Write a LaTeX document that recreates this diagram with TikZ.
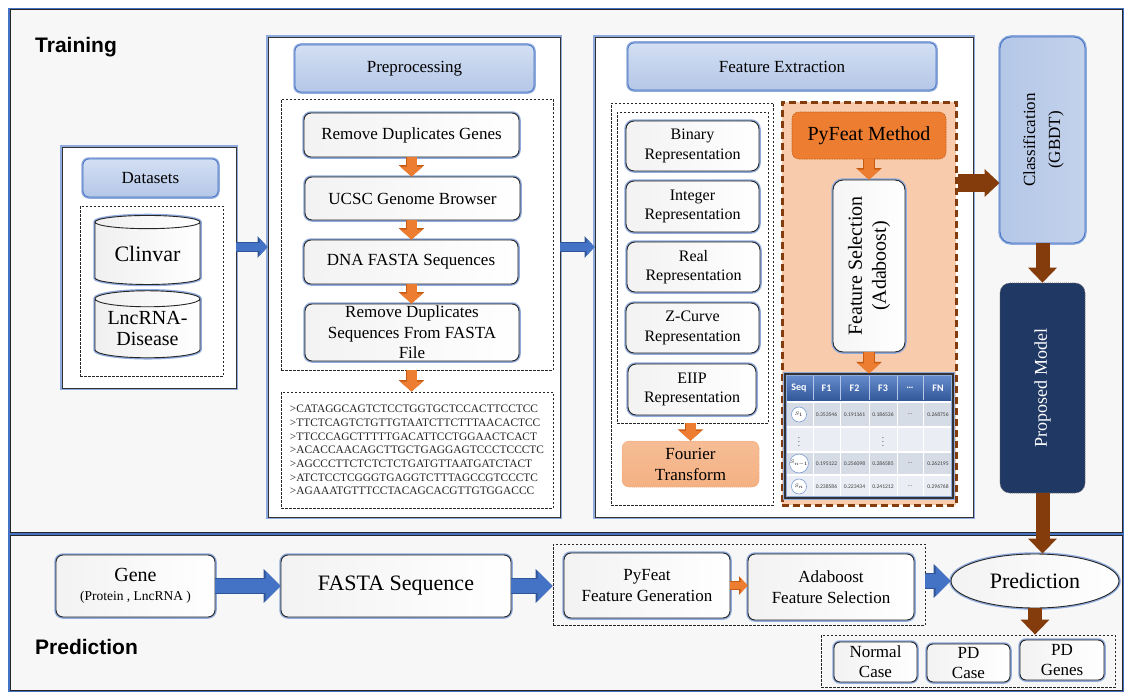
\documentclass[tikz,border=0pt]{standalone}
\usepackage{fontspec}
\usepackage{graphicx}
\setmainfont{Liberation Serif}
\newfontfamily\headsans{Liberation Sans}
\newfontfamily\tabfont{Carlito}
\usetikzlibrary{arrows.meta,shapes.geometric,calc}

\definecolor{hdrblue}{HTML}{B4C7E7}
\definecolor{hdrlight}{HTML}{D3DFF3}
\definecolor{edgeblue}{HTML}{4472C4}
\definecolor{glowblue}{HTML}{8FAADC}
\definecolor{darkblue}{HTML}{2F5597}
\definecolor{navy}{HTML}{1F3864}
\definecolor{orng}{HTML}{ED7D31}
\definecolor{orngdark}{HTML}{C55A11}
\definecolor{brwn}{HTML}{843C0C}
\definecolor{peach}{HTML}{F8CBAD}
\definecolor{salmon}{HTML}{F4B183}
\definecolor{rowA}{HTML}{D6DCE5}
\definecolor{rowB}{HTML}{EAEDF3}
\definecolor{panelbg}{HTML}{F7F7F7}

\tikzset{
  % a rectangle given by its left, top, right and bottom edges
  spanbox/.style n args={4}{at={({(#1+#3)/2},{(#2+#4)/2})},
    minimum width={(#3-#1)*1pt}, minimum height={(#4-#2)*1pt}},
  glow/.style={preaction={draw=glowblue, line width=3.5pt}},
  region/.style={preaction={draw=edgeblue, line width=4pt}, draw=black!85,
    line width=1pt, fill=panelbg, inner sep=0pt},
  panel/.style={glow, draw=black!80, line width=0.9pt, fill=white, inner sep=0pt},
  header/.style={glow, draw=edgeblue, line width=0.8pt, rounded corners=6pt,
    top color=hdrlight, bottom color=hdrblue, inner sep=0pt,
    font=\fontsize{17}{19}\selectfont},
  grp/.style={draw=black!85, line width=0.8pt, dash pattern=on 2.5pt off 1.5pt, inner sep=0pt},
  box/.style={glow, draw=black!85, line width=0.9pt, rounded corners=7pt,
    left color=gray!10, right color=white, inner sep=0pt, align=center,
    font=\fontsize{17}{20}\selectfont},
  rep/.style={box, rounded corners=8pt, font=\fontsize{16}{19.5}\selectfont},
  sbox/.style={box, rounded corners=6pt, font=\fontsize{17}{20}\selectfont},
  db/.style={cylinder, shape border rotate=90, aspect=0.2, glow, draw=black!85,
    line width=0.9pt, left color=gray!12, right color=white, inner sep=0pt,
    minimum width=105pt, align=center},
  lbl/.style={inner sep=0pt, font=\headsans\bfseries\fontsize{21}{24}\selectfont},
  blarrow/.style={draw=edgeblue, line width=8pt, -{Triangle[length=8pt,width=17pt]},
    preaction={draw=darkblue, line width=10pt, -{Triangle[length=10pt,width=21pt]}}},
  bigblarrow/.style={draw=edgeblue, line width=14pt, -{Triangle[length=15pt,width=29pt]},
    preaction={draw=darkblue, line width=16pt, -{Triangle[length=17pt,width=33pt]}}},
  orarrow/.style={draw=orng, line width=10pt, -{Triangle[length=10pt,width=22pt]},
    preaction={draw=orngdark, line width=11.5pt, -{Triangle[length=11.5pt,width=25pt]}}},
  smorarrow/.style={draw=orng, line width=7pt, -{Triangle[length=7pt,width=15pt]},
    preaction={draw=orngdark, line width=8.5pt, -{Triangle[length=8.5pt,width=18pt]}}},
  brarrow/.style={draw=brwn, line width=14pt, -{Triangle[length=15pt,width=28pt]}},
  val/.style={inner sep=0pt, font=\tabfont\fontsize{5.6}{6}\selectfont, text=black!75},
  thd/.style={inner sep=0pt, font=\tabfont\bfseries\fontsize{10}{11}\selectfont, text=white},
  sq/.style={circle, draw=edgeblue!70, line width=0.6pt, fill=white, minimum size=15pt,
    inner sep=0pt, font=\fontsize{5}{5}\selectfont},
}

\begin{document}
\begin{tikzpicture}[x=1pt,y=-1pt]
\fill[white] (0,0) rectangle (1127,693);
\useasboundingbox (0,0) rectangle (1127,693);

% ---------- the two stages ----------
\node[region, spanbox={10}{10}{1122}{532}] (train) {};
\node[region, spanbox={10}{535}{1122}{690}] (predarea) {};
\node[lbl, anchor=west] (trainlbl) at (35,47) {Training};
\node[lbl, anchor=west] (predlbl) at (35,647) {Prediction};

% ---------- datasets ----------
\node[panel, spanbox={62}{147}{236}{388}] (ds) {};
\node[header, spanbox={83}{159}{218}{197}] (dshead) {Datasets};
\node[grp, spanbox={80}{206}{223}{376}] (dsgrp) {};
\node[db, minimum height=69pt, font=\fontsize{22}{24}\selectfont] (clin) at (147.5,253.5) {Clinvar};
\node[db, minimum height=67pt, font=\fontsize{20}{21}\selectfont] (lnc) at (147.5,328.5) {LncRNA-\\Disease};

% ---------- preprocessing ----------
\node[panel, spanbox={268}{37}{560}{517}] (pre) {};
\node[header, spanbox={295}{45}{534}{92}] (prehead) {Preprocessing};
\node[grp, spanbox={281}{99}{553}{370}] (pregrp) {};
\node[box, spanbox={304}{113}{519}{157}] (rdg) {Remove Duplicates Genes};
\node[box, spanbox={305}{177}{520}{220}] (ucsc) {UCSC Genome Browser};
\node[box, spanbox={304}{240}{518}{284}] (dna) {DNA FASTA Sequences};
\node[box, spanbox={305}{304}{519}{361}, font=\fontsize{17}{20.5}\selectfont] (rds)
  {Remove Duplicates\\Sequences From FASTA\\File};
\node[grp, spanbox={281}{392}{553}{508}] (seqgrp) {};
\node[inner sep=0pt, align=left, font=\fontsize{11.4}{13.7}\selectfont, text=black!85] (seqs) at (seqgrp.center)
  {>CATAGGCAGTCTCCTGGTGCTCCACTTCCTCC\\
   >TTCTCAGTCTGTTGTAATCTTCTTTAACACTCC\\
   >TTCCCAGCTTTTTGACATTCCTGGAACTCACT\\
   >ACACCAACAGCTTGCTGAGGAGTCCCTCCCTC\\
   >AGCCCTTCTCTCTCTGATGTTAATGATCTACT\\
   >ATCTCCTCGGGTGAGGTCTTTAGCCGTCCCTC\\
   >AGAAATGTTTCCTACAGCACGTTGTGGACCC};

% ---------- feature extraction ----------
\node[panel, spanbox={595}{37}{973}{517}] (fe) {};
\node[header, spanbox={628}{43}{936}{90}] (fehead) {Feature Extraction};
\node[grp, spanbox={611}{103}{773}{505}] (fegrp) {};
\node[grp, spanbox={617}{112}{768}{423}] (repgrp) {};
\node[rep, spanbox={626}{121}{759}{171}] (bin) {Binary\\Representation};
\node[rep, spanbox={626}{181}{759}{232}] (int) {Integer\\Representation};
\node[rep, spanbox={627}{242}{760}{292}] (real) {Real\\Representation};
\node[rep, spanbox={626}{303}{759}{353}] (zc) {Z-Curve\\Representation};
\node[rep, spanbox={628}{364}{756}{415}] (eiip) {EIIP\\Representation};
\node[spanbox={622}{441}{759}{487}, inner sep=0pt, rounded corners=7pt, top color=salmon!85, bottom color=salmon,
  draw=salmon!70!orng, dash pattern=on 1pt off 1pt, line width=0.5pt, align=center,
  font=\fontsize{17}{21}\selectfont] (ft) {Fourier\\Transform};

\node[spanbox={782}{102}{956}{505}, inner sep=0pt, fill=peach, draw=brwn, line width=3pt,
  dash pattern=on 7pt off 4pt] (pyreg) {};
\node[spanbox={792}{112}{946}{159}, inner sep=0pt, rounded corners=7pt, fill=orng, draw=orngdark,
  dash pattern=on 1.5pt off 1pt, line width=0.6pt, font=\fontsize{20}{22}\selectfont] (pym) {PyFeat Method};
\node[spanbox={833}{180}{905}{352}, inner sep=0pt, rounded corners=10pt, glow, draw=black!85, line width=0.9pt,
  left color=gray!8, right color=white, font=\fontsize{20}{24}\selectfont] (fs)
  {\rotatebox{90}{\begin{tabular}{@{}c@{}}Feature Selection\\(Adaboost)\end{tabular}}};

% feature table
\shade[top color=edgeblue!80, bottom color=darkblue] (785,374) rectangle (953,402);
\fill[rowA] (785,402) rectangle (953,427);
\fill[rowB] (785,427) rectangle (953,452);
\fill[rowA] (785,452) rectangle (953,475);
\fill[rowB] (785,475) rectangle (953,498);
\foreach \cx in {813,840,869,897,923}{
  \draw[edgeblue!40!white, line width=0.5pt] (\cx,376) -- (\cx,400);
  \draw[white, line width=0.6pt] (\cx,402) -- (\cx,498);
}
\foreach \ry in {402,427,452,475}{
  \draw[white, line width=1.2pt] (785,\ry) -- (953,\ry);
}
\foreach \t/\x [count=\i] in {Seq/799,F1/826.5,F2/854.5,F3/883,\ldots/910,FN/938}{
  \node[thd] (th\i) at (\x,388) {\t};
}
\foreach \v/\x [count=\i] in {0.353546/826.5,0.191161/854.5,0.186536/883,\ldots/910,0.268756/938}{
  \node[val] (ra\i) at (\x,414.5) {\v};
}
\foreach \v/\x [count=\i] in {0.195122/826.5,0.256098/854.5,0.286585/883,\ldots/910,0.262195/938}{
  \node[val] (rb\i) at (\x,463.5) {\v};
}
\foreach \v/\x [count=\i] in {0.238586/826.5,0.223434/854.5,0.241212/883,\ldots/910,0.296768/938}{
  \node[val] (rc\i) at (\x,486.5) {\v};
}
\node[val, font=\fontsize{9}{9}\selectfont] (vd1) at (799,439.5) {$\vdots$};
\node[val, font=\fontsize{9}{9}\selectfont] (vd2) at (883,439.5) {$\vdots$};
\node[sq] (s1) at (799,414.5) {$S_1$};
\node[sq] (s2) at (799,463.5) {$S_{n-1}$};
\node[sq] (s3) at (799,486.5) {$S_n$};
\node[spanbox={785}{374}{953}{498}, inner sep=0pt, glow, draw=black!80, line width=1.2pt] (tbl) {};

% ---------- classifier and model ----------
\node[spanbox={1000}{37}{1085}{243}, inner sep=0pt, rounded corners=11pt, glow, draw=edgeblue, line width=0.9pt,
  left color=hdrblue, right color=hdrblue!80!white, font=\fontsize{17}{25}\selectfont] (cls)
  {\rotatebox{90}{\begin{tabular}{@{}c@{}}Classification\\(GBDT)\end{tabular}}};
\node[spanbox={1000}{283}{1085}{493}, inner sep=0pt, rounded corners=10pt, fill=navy, draw=black!60,
  dash pattern=on 1pt off 1pt, line width=0.6pt, text=white, font=\fontsize{18}{20}\selectfont] (pm)
  {\rotatebox{90}{Proposed Model}};

% ---------- prediction stage ----------
\node[box, spanbox={56}{555}{215}{617}] (gene)
  {{\fontsize{20}{23}\selectfont Gene}\\[-1pt]{\fontsize{13.5}{16}\selectfont (Protein , LncRNA )}};
\node[box, spanbox={281}{555}{511}{617}, font=\fontsize{22}{24}\selectfont] (fasta) {FASTA Sequence};
\node[grp, spanbox={553}{544}{925}{625}] (pgrp) {};
\node[box, spanbox={564}{553}{730}{618}, font=\fontsize{17}{21}\selectfont] (pyfg) {PyFeat\\Feature Generation};
\node[box, spanbox={748}{554}{914}{620}, font=\fontsize{17}{21}\selectfont] (adab) {Adaboost\\Feature Selection};
\node[ellipse, glow, draw=black!85, line width=0.9pt, left color=gray!10, right color=white,
  minimum width=168pt, minimum height=54pt, inner sep=0pt, font=\fontsize{22}{24}\selectfont] (pred)
  at (1035,581) {Prediction};
\node[grp, spanbox={821}{635}{1115}{687}] (outs) {};
\node[sbox, spanbox={834}{642}{917}{682}] (normal) {Normal\\Case};
\node[sbox, spanbox={927}{644}{1010}{682}] (pdcase) {PD\\Case};
\node[sbox, spanbox={1020}{640}{1104}{680}] (pdgenes) {PD\\Genes};

% ---------- connectors ----------
\coordinate (dsout) at ([yshift=20.5pt]ds.east);
\draw[blarrow] (dsout) -- (dsout -| pre.west);
\coordinate (preout) at ([yshift=30pt]pre.east);
\draw[blarrow] (preout) -- (preout -| fe.west);

\draw[orarrow] (rdg.south) -- (ucsc.north -| rdg.south);
\draw[orarrow] (ucsc.south -| rdg.south) -- (dna.north -| rdg.south);
\draw[orarrow] (dna.south -| rdg.south) -- (rds.north -| rdg.south);
\draw[orarrow] (pregrp.south -| rdg.south) -- (seqgrp.north -| rdg.south);

\draw[orarrow] (repgrp.south -| ft.north) -- (ft.north);
\draw[orarrow] (pym.south) -- (fs.north);
\draw[orarrow] (fs.south) -- (tbl.north);

\coordinate (pyout) at ([yshift=120.5pt]pyreg.east);
\draw[brarrow, line width=18pt, -{Triangle[length=15pt,width=27pt]}] (pyout) -- (pyout -| cls.west);
\draw[brarrow] (cls.south) -- (pm.north);
\draw[brarrow] (pm.south) -- (pm.south |- pred.north);
\draw[brarrow] (pred.south) -- (pred.south |- outs.north);

\draw[bigblarrow] (gene.east) -- (fasta.west);
\draw[bigblarrow] (fasta.east) -- (fasta.east -| pgrp.west);
\draw[smorarrow] (pyfg.east) -- (pyfg.east -| adab.west);
\draw[bigblarrow] (pred.west -| pgrp.east) -- (pred.west);
\end{tikzpicture}
\end{document}
